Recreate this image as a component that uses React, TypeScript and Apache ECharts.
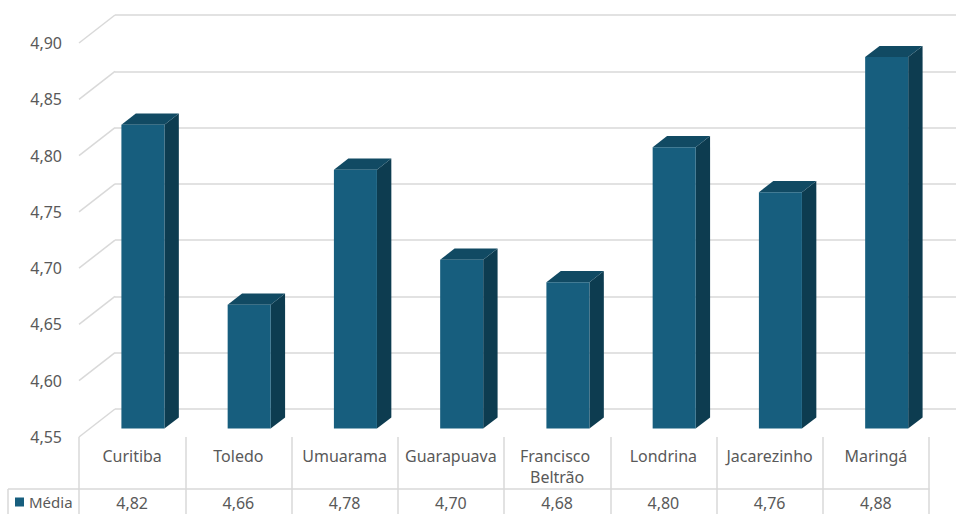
import React, { useEffect, useRef } from "react";
import * as echarts from "echarts";

const categories = ["Curitiba", "Toledo", "Umuarama", "Guarapuava", "Francisco Beltrão", "Londrina", "Jacarezinho", "Maringá"];
const values = [4.82, 4.66, 4.78, 4.7, 4.68, 4.8, 4.76, 4.88];
const seriesName = "Média";
const yTicks = [4.55, 4.6, 4.65, 4.7, 4.75, 4.8, 4.85, 4.9];
const Y_MIN = 4.55;
const Y_MAX = 4.9;
const Y_STEP = 0.05;

const FRONT = "#175E7E";
const TOP = "#114A63";
const SIDE = "#0D3C50";
const GRID = "#D9D9D9";
const TEXT = "#595959";
const FONT = "Noto Sans";
const FS = 16;
const DX = 36;
const DY = -28;

const fmt = (v: number) => v.toFixed(2).replace(".", ",");

export default function App() {
  const ref = useRef<HTMLDivElement>(null);
  useEffect(() => {
    if (!ref.current) return;
    const chart = echarts.init(ref.current, null, { renderer: "svg" });
    const option: any = {
      animation: false,
      backgroundColor: "#FFFFFF",
      textStyle: { fontFamily: FONT },
      legend: {
        data: [seriesName],
        left: 15,
        top: 493,
        padding: 0,
        icon: "rect",
        itemWidth: 9,
        itemHeight: 9,
        itemGap: 6,
        textStyle: { fontSize: 15, color: TEXT, fontFamily: FONT, lineHeight: 18 },
      },
      grid: [
        { left: 79, right: 27, top: 43, bottom: 77, containLabel: false, outerBoundsMode: "none" },
        { left: 115, right: 0, top: 15, bottom: 105, containLabel: false, outerBoundsMode: "none" },
      ],
      xAxis: [
        {
          type: "category",
          gridIndex: 0,
          data: categories,
          axisLine: { show: false },
          axisTick: { show: true, length: 77, lineStyle: { color: GRID, width: 1.5 } },
          axisLabel: {
            interval: 0,
            margin: 8,
            fontSize: FS,
            color: TEXT,
            fontFamily: FONT,
            lineHeight: 21,
            width: 100,
            overflow: "break",
          },
          splitLine: { show: false },
        },
        {
          type: "category",
          gridIndex: 0,
          position: "bottom",
          offset: 52,
          data: values.map(fmt),
          axisLine: { show: true, lineStyle: { color: GRID, width: 1.5 } },
          axisTick: { show: false },
          axisLabel: { interval: 0, margin: 3, fontSize: FS, color: TEXT, fontFamily: FONT, lineHeight: 21 },
          splitLine: { show: false },
        },
        { type: "category", gridIndex: 1, data: categories, show: false },
      ],
      yAxis: [
        {
          type: "value",
          gridIndex: 0,
          min: Y_MIN,
          max: Y_MAX,
          interval: Y_STEP,
          axisLine: { show: false },
          axisTick: { show: false },
          splitLine: { show: false },
          axisLabel: { margin: 17, fontSize: FS, color: TEXT, fontFamily: FONT, formatter: (v: number) => fmt(v) },
        },
        {
          type: "value",
          gridIndex: 1,
          min: Y_MIN,
          max: Y_MAX,
          interval: Y_STEP,
          axisLine: { show: false },
          axisTick: { show: false },
          axisLabel: { show: false },
          splitLine: { show: true, lineStyle: { color: GRID, width: 1.5 } },
        },
      ],
      graphic: [
        { type: "line", shape: { x1: 8, y1: 489, x2: 79, y2: 489 }, style: { stroke: GRID, lineWidth: 1.5 } },
        { type: "line", shape: { x1: 8, y1: 489, x2: 8, y2: 514 }, style: { stroke: GRID, lineWidth: 1.5 } },
      ],
      series: [
        {
          type: "custom",
          name: "walls",
          xAxisIndex: 0,
          yAxisIndex: 0,
          silent: true,
          z: 1,
          encode: { x: 0, y: 1 },
          data: yTicks.map((t) => [0, t]),
          renderItem: (params: any, api: any) => {
            const y = api.coord([0, api.value(1)])[1];
            const x0 = params.coordSys.x;
            return {
              type: "line",
              shape: { x1: x0, y1: y, x2: x0 + DX, y2: y + DY },
              style: { stroke: GRID, lineWidth: 1.5 },
            };
          },
        },
        {
          type: "custom",
          name: seriesName,
          xAxisIndex: 0,
          yAxisIndex: 0,
          z: 3,
          itemStyle: { color: FRONT },
          encode: { x: 0, y: 1 },
          data: values.map((v, i) => [i, v]),
          renderItem: (params: any, api: any) => {
            const i = api.value(0);
            const v = api.value(1);
            const top = api.coord([i, v]);
            const base = api.coord([i, Y_MIN]);
            const band = api.size([1, 0])[0];
            const w = band * 0.405;
            const fx = DX * 0.3;
            const fy = DY * 0.3;
            const ddx = DX * 0.4;
            const ddy = DY * 0.4;
            const xl = top[0] - w / 2 + fx;
            const xr = top[0] + w / 2 + fx;
            const yt = top[1] + fy;
            const yb = base[1] + fy;
            return {
              type: "group",
              children: [
                {
                  type: "polygon",
                  shape: { points: [[xr, yt], [xr + ddx, yt + ddy], [xr + ddx, yb + ddy], [xr, yb]] },
                  style: { fill: SIDE },
                },
                {
                  type: "polygon",
                  shape: { points: [[xl, yt], [xr, yt], [xr + ddx, yt + ddy], [xl + ddx, yt + ddy]] },
                  style: { fill: TOP },
                },
                {
                  type: "rect",
                  shape: { x: xl, y: yt, width: w, height: yb - yt },
                  style: { fill: FRONT },
                },
              ],
            };
          },
        },
      ],
    };
    chart.setOption(option);
    return () => chart.dispose();
  }, []);
  return <div ref={ref} style={{ position: "fixed", left: 0, top: 0, width: 956, height: 514 }} />;
}
